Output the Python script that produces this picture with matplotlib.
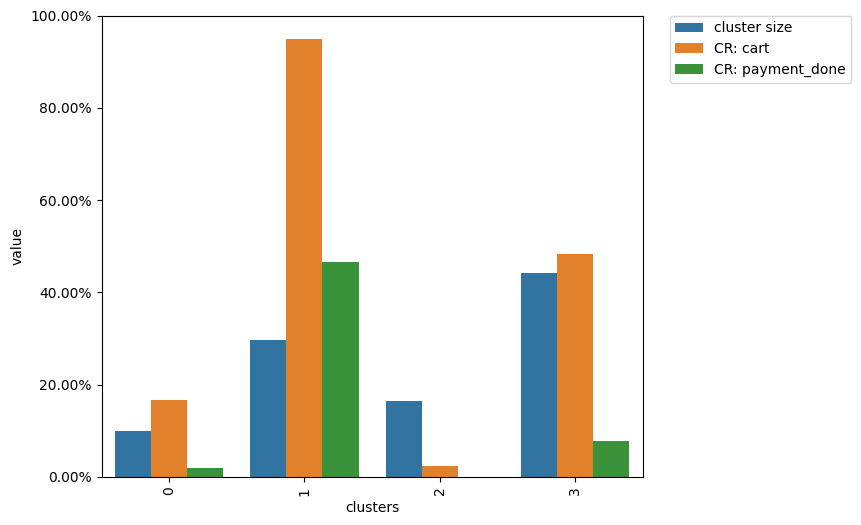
import matplotlib
matplotlib.use("Agg")
import matplotlib.pyplot as plt
from matplotlib.ticker import PercentFormatter
import pandas as pd
import seaborn as sns

clusters = ["0", "1", "2", "3"]
series = ["cluster size", "CR: cart", "CR: payment_done"]
cluster_size = [0.100, 0.298, 0.165, 0.443]
cr_cart = [0.168, 0.949, 0.0245, 0.484]
cr_payment = [0.020, 0.467, 0.0, 0.079]

rows = []
for name, vals in zip(series, [cluster_size, cr_cart, cr_payment]):
    for c, v in zip(clusters, vals):
        rows.append({"clusters": c, "variable": name, "value": v})
df = pd.DataFrame(rows)

fig = plt.figure(figsize=(8.61, 5.25), dpi=100)
ax = fig.add_axes([101.5/861, 48/525, (642.7-101.5)/861, (477-15.7)/525])
sns.barplot(data=df, x="clusters", y="value", hue="variable", ax=ax)
ax.set_ylim(0, 1)
ax.yaxis.set_major_formatter(PercentFormatter(xmax=1, decimals=2))
ax.set_yticks([0, 0.2, 0.4, 0.6, 0.8, 1.0])
plt.setp(ax.get_xticklabels(), rotation=90)
ax.set_xlabel("clusters")
ax.set_ylabel("value")
ax.legend(bbox_to_anchor=(1.05, 1), loc="upper left", borderaxespad=0)
fig.savefig("out.png", dpi=100)
